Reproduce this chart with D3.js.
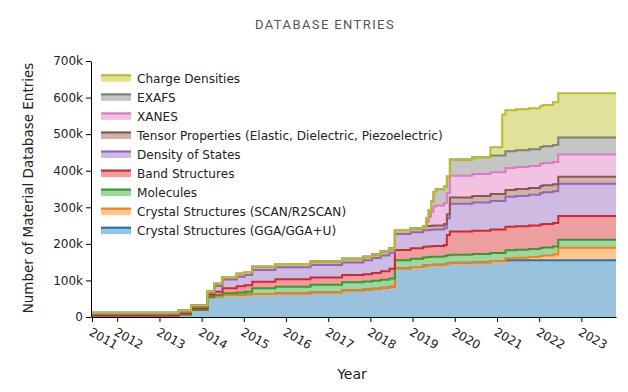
<!DOCTYPE html>
<html><head><meta charset="utf-8">
<script src="https://cdn.jsdelivr.net/npm/d3@7"></script>
<style>body{margin:0;background:#fff} svg{display:block}</style>
</head><body>
<svg id="c" width="628" height="392"></svg>
<script>
const dates = ["2011-05-28","2013-06-15","2013-10-01","2014-02-20","2014-04-20","2014-07-01","2014-11-01","2015-01-10","2015-03-15","2015-10-01","2016-08-01","2017-05-01","2017-11-01","2018-01-15","2018-04-01","2018-06-15","2018-08-01","2018-12-15","2019-04-01","2019-05-01","2019-05-20","2019-06-10","2019-07-01","2019-07-20","2019-10-01","2019-10-25","2019-11-20","2020-06-01","2020-11-05","2021-02-15","2021-03-15","2021-06-10","2021-10-01","2022-01-10","2022-02-01","2022-05-01","2022-06-15","2023-10-28"];
const seriesNames = ["Crystal Structures (GGA/GGA+U)","Crystal Structures (SCAN/R2SCAN)","Molecules","Band Structures","Density of States","Tensor Properties (Elastic, Dielectric, Piezoelectric)","XANES","EXAFS","Charge Densities"];
const gga    = [4,7,19,54,57,60,61,62,63,65,68,73,75,77,80,83,133,137,141,141.5,142,142.5,143,143,145,147,148,150,153,153,155,155,155,155,155,155,155,155];
const scan   = [0,0,0,0,0,0,0,0,0,0,0,0,0,0,0,0,0,0,0,0,0,0,0,0,0,0,0,0,0,0,5.5,7,9,12,13,16,34.5,34.5];
const molecules = [0,0,0,1.5,3,5,6,7,15.5,18,20,22,22,22,22,22,22,22,22,22,22,22,22,22,22,22,22,22,22,22,22,22,22,22,22,22,22,22];
const bands  = [1,3,5,5,9,13.5,17,18,18,20,20,20,20,21,23,27,28,29,29,29,29,29,29,29,30,55,64,64,64,64,64,64,64,64,64,64,65,65];
const dos    = [3,4,4,5,16,24,26,28,32,33,34,34,38,41,43,44,44,44,45,45,45,45,45,45,46,46,76,77,78,78,82,83,84,86,87,87,88,88];
const tensor = [3.5,4,4,4,6,7,8,8,9,9,9.5,10,10,10,11,11,11,11,11,11,11,11,11,11,11,11,17,18,19,19,19,19,19,19,19,19,19,19];
const xanes  = [0,0,0,0,0,0,0,0,0,0,0,0,0,0,0,0,0,0,0,12,25,38,52,55,58,58,59,60,60,60,60,60,60,61,61,61,61,61];
const exafs  = [0,0,0,0,0,0,0,0,0,0,0,0,0,0,0,0,0,0,0,10,18,28,40,44,45,45,45,45.5,45.5,45.5,45.5,46,46,46,46,46,46,46];
const charge = [0,0,0,0,0,0,0,0,0,0,0,0,0,0,0,0,0,0,0,0,0,0,0,0,0,0,0,0,22.5,112,112,112,112,112,113,117,121,121];
const yTicks = [0,100000,200000,300000,400000,500000,600000,700000];
const xTickYears = [2012,2013,2014,2015,2016,2017,2018,2019,2020,2021,2022,2023];

const colors = ["#1f77b4","#ff7f0e","#2ca02c","#d62728","#9467bd","#8c564b","#e377c2","#7f7f7f","#bcbd22"];
const seriesVals = [gga,scan,molecules,bands,dos,tensor,xanes,exafs,charge];
const parse = d3.timeParse("%Y-%m-%d");
const rows = dates.map((d,i)=>{const r={date:parse(d)}; seriesNames.forEach((n,j)=>r[n]=seriesVals[j][i]*1000); return r;});

const svg = d3.select("#c");
const L=92,R=616,T=61,B=317;
const x = d3.scaleTime().domain([rows[0].date, rows[rows.length-1].date]).range([L,R]);
const y = d3.scaleLinear().domain([0,700000]).range([B,T]);
const stack = d3.stack().keys(seriesNames)(rows);

const area = d3.area().curve(d3.curveStepAfter).x(d=>x(d.data.date)).y0(d=>y(d[0])).y1(d=>y(d[1]));
const line = d3.line().curve(d3.curveStepAfter).x(d=>x(d.data.date)).y(d=>y(d[1]));

svg.append("g").selectAll("path").data(stack).join("path")
  .attr("d",area).attr("fill",(d,i)=>colors[i]).attr("fill-opacity",0.45);
svg.append("g").selectAll("path").data(stack).join("path")
  .attr("d",line).attr("fill","none").attr("stroke",(d,i)=>colors[i]).attr("stroke-width",2);

const font = "DejaVu Sans, Verdana, sans-serif";
// y axis
const ya = svg.append("g").attr("transform",`translate(${L-1},0)`)
  .call(d3.axisLeft(y).tickValues(yTicks).tickSize(5).tickSizeOuter(0).tickFormat(d=>d===0?"0":(d/1000)+"k"));
ya.selectAll("text").attr("font-family",font).attr("font-size",12).attr("fill","#222");
ya.select(".domain").attr("stroke","#000");
// x axis
const xTickVals = [rows[0].date].concat(xTickYears.map(yv=>new Date(yv,0,1)));
const xa = svg.append("g").attr("transform",`translate(0,${B})`)
  .call(d3.axisBottom(x).tickValues(xTickVals).tickSize(5).tickSizeOuter(0).tickFormat(d3.timeFormat("%Y")));
xa.selectAll("text").attr("font-family",font).attr("font-size",12).attr("fill","#222")
  .attr("y",0).attr("dy","0.71em").attr("text-anchor","start").attr("transform","translate(0,10) rotate(30)");
xa.select(".domain").attr("stroke","#000");

// titles
svg.append("text").attr("x",325).attr("y",29).attr("text-anchor","middle")
  .attr("font-family","Roboto, Inter, sans-serif").attr("font-size",13).attr("letter-spacing","1.4px")
  .attr("fill","#555").text("DATABASE ENTRIES");
svg.append("text").attr("x",352).attr("y",379).attr("text-anchor","middle")
  .attr("font-family",font).attr("font-size",14).attr("fill","#222").text("Year");
svg.append("text").attr("transform","translate(33,188) rotate(-90)").attr("text-anchor","middle")
  .attr("font-family",font).attr("font-size",13.5).attr("fill","#222").text("Number of Material Database Entries");

// legend
const lg = svg.append("g");
const order = d3.range(seriesNames.length).reverse();
order.forEach((si,k)=>{
  const cy = 78.3 + k*19.05;
  lg.append("rect").attr("x",101).attr("y",cy-3).attr("width",30).attr("height",6.5)
    .attr("fill",colors[si]).attr("fill-opacity",0.45);
  lg.append("line").attr("x1",101).attr("x2",131).attr("y1",cy-3).attr("y2",cy-3)
    .attr("stroke",colors[si]).attr("stroke-width",2.2);
  lg.append("text").attr("x",137).attr("y",cy).attr("dy","0.35em")
    .attr("font-family",font).attr("font-size",12.1).attr("fill","#222").text(seriesNames[si]);
});
</script>
</body></html>
